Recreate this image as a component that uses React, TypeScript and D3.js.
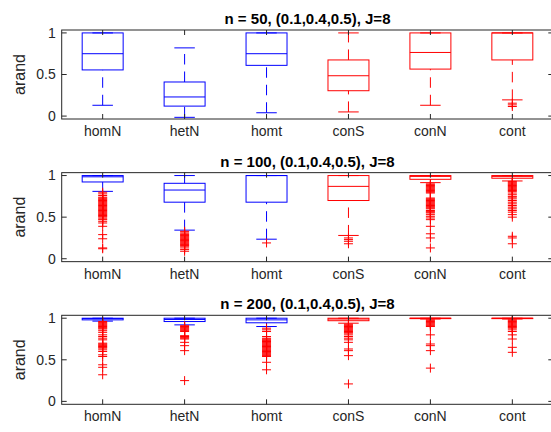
import * as d3 from 'd3';
import { useEffect, useRef } from 'react';

const categories = ['homN', 'hetN', 'homt', 'conS', 'conN', 'cont'];
const panelTitles = [
  'n = 50, (0.1,0.4,0.5), J=8',
  'n = 100, (0.1,0.4,0.5), J=8',
  'n = 200, (0.1,0.4,0.5), J=8',
];
const yTicks = [0, 0.5, 1];
const yTickLabels = ['0', '0.5', '1'];

// n = 50
const n50Lower = [0.13, -0.015, 0.04, 0.05, 0.13, 0.195];
const n50Q1 = [0.555, 0.12, 0.61, 0.305, 0.565, 0.675];
const n50Median = [0.75, 0.23, 0.75, 0.485, 0.765, 1.0];
const n50Q3 = [1.0, 0.41, 1.0, 0.675, 1.0, 1.0];
const n50Upper = [1.0, 0.82, 1.0, 1.0, 1.0, 1.0];
const n50Outliers = [[], [], [], [], [], [0.155, 0.135, 0.115]];

// n = 100
const n100Lower = [0.81, 0.344, 0.235, 0.28, 0.915, 0.935];
const n100Q1 = [0.923, 0.68, 0.68, 0.7, 0.955, 0.968];
const n100Median = [0.985, 0.826, 1.0, 0.87, 0.99, 0.99];
const n100Q3 = [1.0, 0.907, 1.0, 1.0, 1.0, 1.0];
const n100Upper = [1.0, 1.0, 1.0, 1.0, 1.0, 1.0];
const n100Outliers = [
  [0.8, 0.78, 0.76, 0.74, 0.73, 0.72, 0.71, 0.7, 0.69, 0.68, 0.67, 0.66, 0.65, 0.64, 0.63, 0.62, 0.61, 0.6, 0.59,
    0.58, 0.57, 0.56, 0.55, 0.54, 0.53, 0.52, 0.51, 0.5, 0.48, 0.47, 0.45, 0.43, 0.39, 0.29, 0.24, 0.13, 0.12],
  [0.33, 0.32, 0.3, 0.29, 0.28, 0.27, 0.26, 0.25, 0.24, 0.23, 0.22, 0.21, 0.2, 0.19, 0.18, 0.17, 0.16, 0.15,
    0.13, 0.11, 0.09],
  [0.19],
  [0.25, 0.23, 0.21, 0.18],
  [0.9, 0.89, 0.88, 0.87, 0.86, 0.85, 0.84, 0.83, 0.82, 0.81, 0.8, 0.79, 0.73, 0.72, 0.71, 0.7, 0.69, 0.68, 0.67,
    0.66, 0.65, 0.64, 0.63, 0.62, 0.61, 0.6, 0.58, 0.57, 0.56, 0.55, 0.53, 0.51, 0.49, 0.47, 0.39, 0.3, 0.25, 0.13],
  [0.93, 0.92, 0.91, 0.9, 0.89, 0.88, 0.87, 0.86, 0.85, 0.84, 0.83, 0.82, 0.81, 0.79, 0.77, 0.75, 0.74, 0.72,
    0.7, 0.68, 0.66, 0.64, 0.62, 0.6, 0.58, 0.56, 0.53, 0.5, 0.27, 0.25, 0.18],
];

// n = 200
const n200Lower = [0.965, 0.92, 0.9, 0.94, 0.99, 0.99];
const n200Q1 = [0.98, 0.96, 0.945, 0.97, 0.995, 0.995];
const n200Median = [0.995, 0.985, 0.98, 0.99, 1.0, 1.0];
const n200Q3 = [1.0, 1.0, 1.0, 1.0, 1.0, 1.0];
const n200Upper = [1.0, 1.0, 1.0, 1.0, 1.0, 1.0];
const n200Outliers = [
  [0.96, 0.95, 0.94, 0.93, 0.92, 0.91, 0.9, 0.89, 0.88, 0.87, 0.85, 0.83, 0.8, 0.78, 0.76, 0.74, 0.7, 0.69, 0.68,
    0.67, 0.66, 0.65, 0.64, 0.62, 0.6, 0.56, 0.54, 0.44, 0.41, 0.32],
  [0.91, 0.9, 0.89, 0.88, 0.87, 0.86, 0.85, 0.84, 0.79, 0.78, 0.77, 0.76, 0.75, 0.71, 0.67, 0.61, 0.25],
  [0.88, 0.86, 0.84, 0.78, 0.76, 0.75, 0.74, 0.73, 0.72, 0.71, 0.7, 0.69, 0.68, 0.67, 0.66, 0.65, 0.64, 0.63,
    0.62, 0.61, 0.6, 0.59, 0.58, 0.57, 0.56, 0.55, 0.54, 0.47, 0.38],
  [0.93, 0.92, 0.91, 0.9, 0.89, 0.88, 0.87, 0.86, 0.85, 0.84, 0.83, 0.82, 0.8, 0.78, 0.76, 0.74, 0.71, 0.63,
    0.61, 0.55, 0.21],
  [0.98, 0.97, 0.96, 0.95, 0.94, 0.93, 0.92, 0.91, 0.9, 0.8, 0.69, 0.67, 0.61, 0.4],
  [0.98, 0.97, 0.96, 0.95, 0.94, 0.93, 0.92, 0.91, 0.9, 0.89, 0.88, 0.86, 0.84, 0.8, 0.75, 0.65, 0.59],
];

const W = 551;
const H = 432;
const FONT = '"Liberation Sans", Arial, Helvetica, sans-serif';
const AXIS = '#262626';
const BLUE = '#0000ff';
const RED = '#ff0000';
const colorOf = (i) => (i < 3 ? BLUE : RED);

const App = () => {
  const svgRef = useRef(null);

  useEffect(() => {
    const panels = [
      { title: panelTitles[0], lo: n50Lower, q1: n50Q1, med: n50Median, q3: n50Q3, hi: n50Upper, out: n50Outliers },
      { title: panelTitles[1], lo: n100Lower, q1: n100Q1, med: n100Median, q3: n100Q3, hi: n100Upper, out: n100Outliers },
      { title: panelTitles[2], lo: n200Lower, q1: n200Q1, med: n200Median, q3: n200Q3, hi: n200Upper, out: n200Outliers },
    ];

    const svg = d3.select(svgRef.current);
    svg.selectAll('*').remove();

    const left = 61.7;
    const right = 553.3;
    const tops = [30, 172.65, 315.3];
    const ph = 89;

    const x = d3.scaleBand().domain(categories).range([left, right]).padding(0);
    const bw = x.bandwidth();
    const cx = (c) => x(c) + bw / 2;

    panels.forEach((p, pi) => {
      const top = tops[pi];
      const bottom = top + ph;
      const y = d3.scaleLinear().domain([-0.035, 1.035]).range([bottom, top]);
      const g = svg.append('g');

      // title
      g.append('text')
        .attr('x', (left + right) / 2)
        .attr('y', top - 6)
        .attr('text-anchor', 'middle')
        .style('font-family', FONT)
        .style('font-size', '15px')
        .style('font-weight', 'bold')
        .style('fill', '#000')
        .text(p.title);

      // y label
      g.append('text')
        .attr('transform', `translate(25, ${(top + bottom) / 2}) rotate(-90)`)
        .attr('text-anchor', 'middle')
        .style('font-family', FONT)
        .style('font-size', '16px')
        .style('fill', AXIS)
        .text('arand');

      // boxes
      categories.forEach((c, i) => {
        const col = colorOf(i);
        const xc = cx(c);
        const half = bw * 0.25;
        const capHalf = bw * 0.125;
        const bg = g.append('g').attr('stroke', col).attr('fill', 'none').attr('stroke-width', 1);

        // lower whisker (drawn from cap upward)
        bg.append('line')
          .attr('x1', xc).attr('x2', xc)
          .attr('y1', y(p.lo[i])).attr('y2', y(p.q1[i]))
          .attr('stroke-dasharray', '10.5,7');
        // upper whisker (from box upward)
        bg.append('line')
          .attr('x1', xc).attr('x2', xc)
          .attr('y1', y(p.q3[i])).attr('y2', y(p.hi[i]))
          .attr('stroke-dasharray', '10.5,7');
        // caps
        [p.lo[i], p.hi[i]].forEach((v) => {
          bg.append('line')
            .attr('x1', xc - capHalf).attr('x2', xc + capHalf)
            .attr('y1', y(v)).attr('y2', y(v));
        });
        // box
        bg.append('rect')
          .attr('x', xc - half)
          .attr('y', y(p.q3[i]))
          .attr('width', half * 2)
          .attr('height', Math.max(0.01, y(p.q1[i]) - y(p.q3[i])));
        // median
        bg.append('line')
          .attr('x1', xc - half).attr('x2', xc + half)
          .attr('y1', y(p.med[i])).attr('y2', y(p.med[i]));

        // outliers
        const og = g.append('g').attr('stroke', RED).attr('stroke-width', 1);
        p.out[i].forEach((v) => {
          const yy = y(v);
          og.append('line').attr('x1', xc - 4.5).attr('x2', xc + 4.5).attr('y1', yy).attr('y2', yy);
          og.append('line').attr('x1', xc).attr('x2', xc).attr('y1', yy - 4.5).attr('y2', yy + 4.5);
        });
      });

      // axes frame
      g.append('rect')
        .attr('x', left)
        .attr('y', top)
        .attr('width', right - left)
        .attr('height', ph)
        .attr('fill', 'none')
        .attr('stroke', AXIS)
        .attr('stroke-width', 1);

      // y ticks
      yTicks.forEach((t, ti) => {
        const yy = y(t);
        g.append('line').attr('x1', left).attr('x2', left + 5).attr('y1', yy).attr('y2', yy).attr('stroke', AXIS);
        g.append('line').attr('x1', right - 5).attr('x2', right).attr('y1', yy).attr('y2', yy).attr('stroke', AXIS);
        g.append('text')
          .attr('x', left - 6)
          .attr('y', yy)
          .attr('dy', '0.35em')
          .attr('text-anchor', 'end')
          .style('font-family', FONT)
          .style('font-size', '14px')
          .style('fill', AXIS)
          .text(yTickLabels[ti]);
      });

      // x ticks
      categories.forEach((c) => {
        const xc = cx(c);
        g.append('line').attr('x1', xc).attr('x2', xc).attr('y1', bottom).attr('y2', bottom - 5).attr('stroke', AXIS);
        g.append('line').attr('x1', xc).attr('x2', xc).attr('y1', top).attr('y2', top + 5).attr('stroke', AXIS);
        g.append('text')
          .attr('x', xc)
          .attr('y', bottom + 17)
          .attr('text-anchor', 'middle')
          .style('font-family', FONT)
          .style('font-size', '14px')
          .style('fill', AXIS)
          .text(c);
      });
    });
  }, []);

  return (
    <svg
      ref={svgRef}
      width={W}
      height={H}
      style={{ position: 'absolute', left: 0, top: 0, background: '#fff' }}
    />
  );
};

export default App;
